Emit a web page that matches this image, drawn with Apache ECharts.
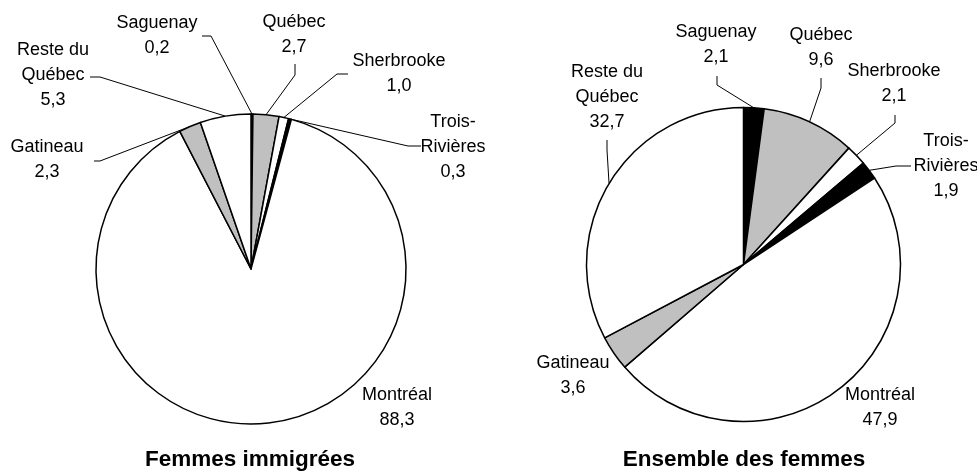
<!DOCTYPE html>
<html><head><meta charset="utf-8">
<script src="https://cdn.jsdelivr.net/npm/echarts@6/dist/echarts.min.js"></script>
<style>html,body{margin:0;padding:0;background:#fff}#c{width:977px;height:472px}</style>
</head><body><div id="c"></div>
<script>
// ---- data ----
const categories = ["Saguenay", "Québec", "Sherbrooke", "Trois-Rivières", "Montréal", "Gatineau", "Reste du Québec"];
const immigrantWomen = [0.2, 2.7, 1.0, 0.3, 88.3, 2.3, 5.3];
const allWomen = [2.1, 9.6, 2.1, 1.9, 47.9, 3.6, 32.7];
const titles = ["Femmes immigrées", "Ensemble des femmes"];

// ---- styling / layout (not data) ----
const displayNames = {"Trois-Rivières": "Trois-\nRivières", "Reste du Québec": "Reste du\nQuébec"};
const sliceColors = ["#000000", "#c0c0c0", "#ffffff", "#000000", "#ffffff", "#c0c0c0", "#ffffff"];
const FONT = "Liberation Sans, Arial, sans-serif";
// label block centers, elbow & end points of leader lines
const labelLayouts = [
  [
    {x:157, y:36,  elbow:[211,36],  end:[202,36]},
    {x:294, y:35,  elbow:[295,75],  end:[295,64]},
    {x:399, y:74,  elbow:[337,74],  end:[348,74]},
    {x:453, y:147, elbow:[408,146], end:[421,146]},
    {x:397, y:408, line:false},
    {x:47,  y:160, elbow:[100,161], end:[94,161]},
    {x:53,  y:75,  elbow:[100,77],  end:[90,77]}
  ],
  [
    {x:716, y:45,  elbow:[717,85],  end:[717,76]},
    {x:821, y:48,  elbow:[821,88],  end:[821,78]},
    {x:894, y:84,  elbow:[895,123], end:[895,115]},
    {x:946, y:166, elbow:[896,166], end:[911,166]},
    {x:880, y:408, line:false},
    {x:573, y:376, line:false},
    {x:607, y:97,  elbow:[607,150], end:[607,140]}
  ]
];
const pieGeom = [
  {center:[251, 269], radius:155},
  {center:[743.5, 264.5], radius:157}
];

function fmt(v){ return v.toFixed(1).replace('.', ','); }

function makeSeries(idx, values){
  const lay = labelLayouts[idx];
  return {
    type: 'pie',
    center: pieGeom[idx].center,
    radius: pieGeom[idx].radius,
    startAngle: 90,
    clockwise: true,
    avoidLabelOverlap: false,
    animation: false,
    silent: true,
    itemStyle: {borderColor: '#000', borderWidth: 1.5},
    label: {
      show: true, position: 'outside',
      color: '#000', fontSize: 18, lineHeight: 25, fontFamily: FONT,
      formatter: p => (displayNames[p.name] || p.name) + '\n' + fmt(p.value)
    },
    labelLine: {show: true, length: 10, length2: 10, lineStyle: {color: '#000', width: 1}},
    labelLayout: function(params){
      const c = lay[params.dataIndex];
      const out = {x: c.x, y: c.y, align: 'center', verticalAlign: 'middle'};
      if (c.line !== false && params.labelLinePoints) {
        out.labelLinePoints = [params.labelLinePoints[0].slice(), c.elbow, c.end];
      }
      return out;
    },
    data: categories.map((name, i) => ({
      name: name,
      value: values[i],
      itemStyle: {color: sliceColors[i]},
      labelLine: {show: lay[i].line !== false}
    }))
  };
}

const chart = echarts.init(document.getElementById('c'), null, {renderer: 'canvas'});
chart.setOption({
  backgroundColor: '#fff',
  animation: false,
  title: [
    {text: titles[0], left: 250, top: 448, textAlign: 'center', padding: 0,
     textStyle: {fontSize: 22.5, fontWeight: 'bold', color: '#000', fontFamily: FONT}},
    {text: titles[1], left: 744, top: 448, textAlign: 'center', padding: 0,
     textStyle: {fontSize: 22.5, fontWeight: 'bold', color: '#000', fontFamily: FONT}}
  ],
  series: [makeSeries(0, immigrantWomen), makeSeries(1, allWomen)]
});
</script>
</body></html>
